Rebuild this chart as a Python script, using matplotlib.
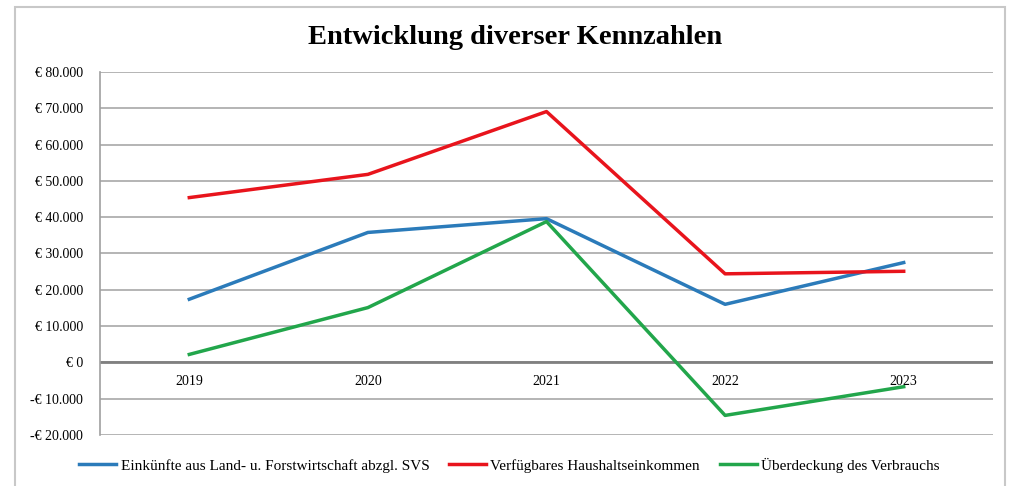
import matplotlib
matplotlib.use("Agg")
import matplotlib.pyplot as plt
import matplotlib.patches as patches
from matplotlib.ticker import FuncFormatter

years = ["2019", "2020", "2021", "2022", "2023"]
einkuenfte = [17400, 35800, 39600, 16000, 27500]
haushalt = [45400, 51800, 69100, 24400, 25100]
ueberdeckung = [2200, 15100, 38800, -14600, -6700]

labels = ["Einkünfte aus Land- u. Forstwirtschaft abzgl. SVS",
          "Verfügbares Haushaltseinkommen",
          "Überdeckung des Verbrauchs"]
colors = ["#2b7bba", "#e8141c", "#22a64b"]

plt.rcParams['font.family'] = ['Liberation Serif', 'DejaVu Serif']

fig = plt.figure(figsize=(10.13, 4.86), dpi=100)
# grey frame round the whole chart
fig.patches.append(patches.Rectangle((15/1013, -0.05), 990/1013, 1 - 7/486 + 0.05,
                                     transform=fig.transFigure, fill=False,
                                     edgecolor="#c8c8c8", linewidth=1.5))

ax = fig.add_axes([100/1013, 1 - 435/486, 893/1013, 363/486])
x = list(range(len(years)))
for vals, lab, col in zip([einkuenfte, haushalt, ueberdeckung], labels, colors):
    ax.plot(x, vals, color=col, linewidth=2.5, label=lab, zorder=3)

ax.set_xlim(-0.5, 4.5)
ax.set_ylim(-20000, 80000)
ax.set_yticks(range(-20000, 80001, 10000))
ax.grid(axis="y", color="#a8a8a8", linewidth=1.2)
ax.axhline(0, color="#808080", linewidth=2, zorder=2)
ax.set_xticks([])

def euro(v, pos):
    s = "{:,.0f}".format(abs(v)).replace(",", ".")
    return ("-€ " if v < 0 else "€ ") + s

ax.yaxis.set_major_formatter(FuncFormatter(euro))
ax.tick_params(axis="y", length=0, pad=12, labelsize=10)
for sp in ["top", "right", "bottom"]:
    ax.spines[sp].set_visible(False)
ax.spines["left"].set_color("#a0a0a0")
ax.spines["left"].set_linewidth(1.2)

for xi, yr in zip(x, years):
    ax.annotate(yr, (xi, 0), xytext=(0, -9), textcoords="offset points",
                ha="center", va="top", fontsize=10)

fig.text(0.508, 1 - 38/486, "Entwicklung diverser Kennzahlen", ha="center", va="center",
         fontsize=20.5, fontweight="bold")

fig.legend(loc="center", bbox_to_anchor=(0.503, 1 - 465/486), ncol=3, frameon=False,
           fontsize=11, handlelength=2.4, handletextpad=0.3, columnspacing=1.3)

fig.savefig("out.png", dpi=100)
